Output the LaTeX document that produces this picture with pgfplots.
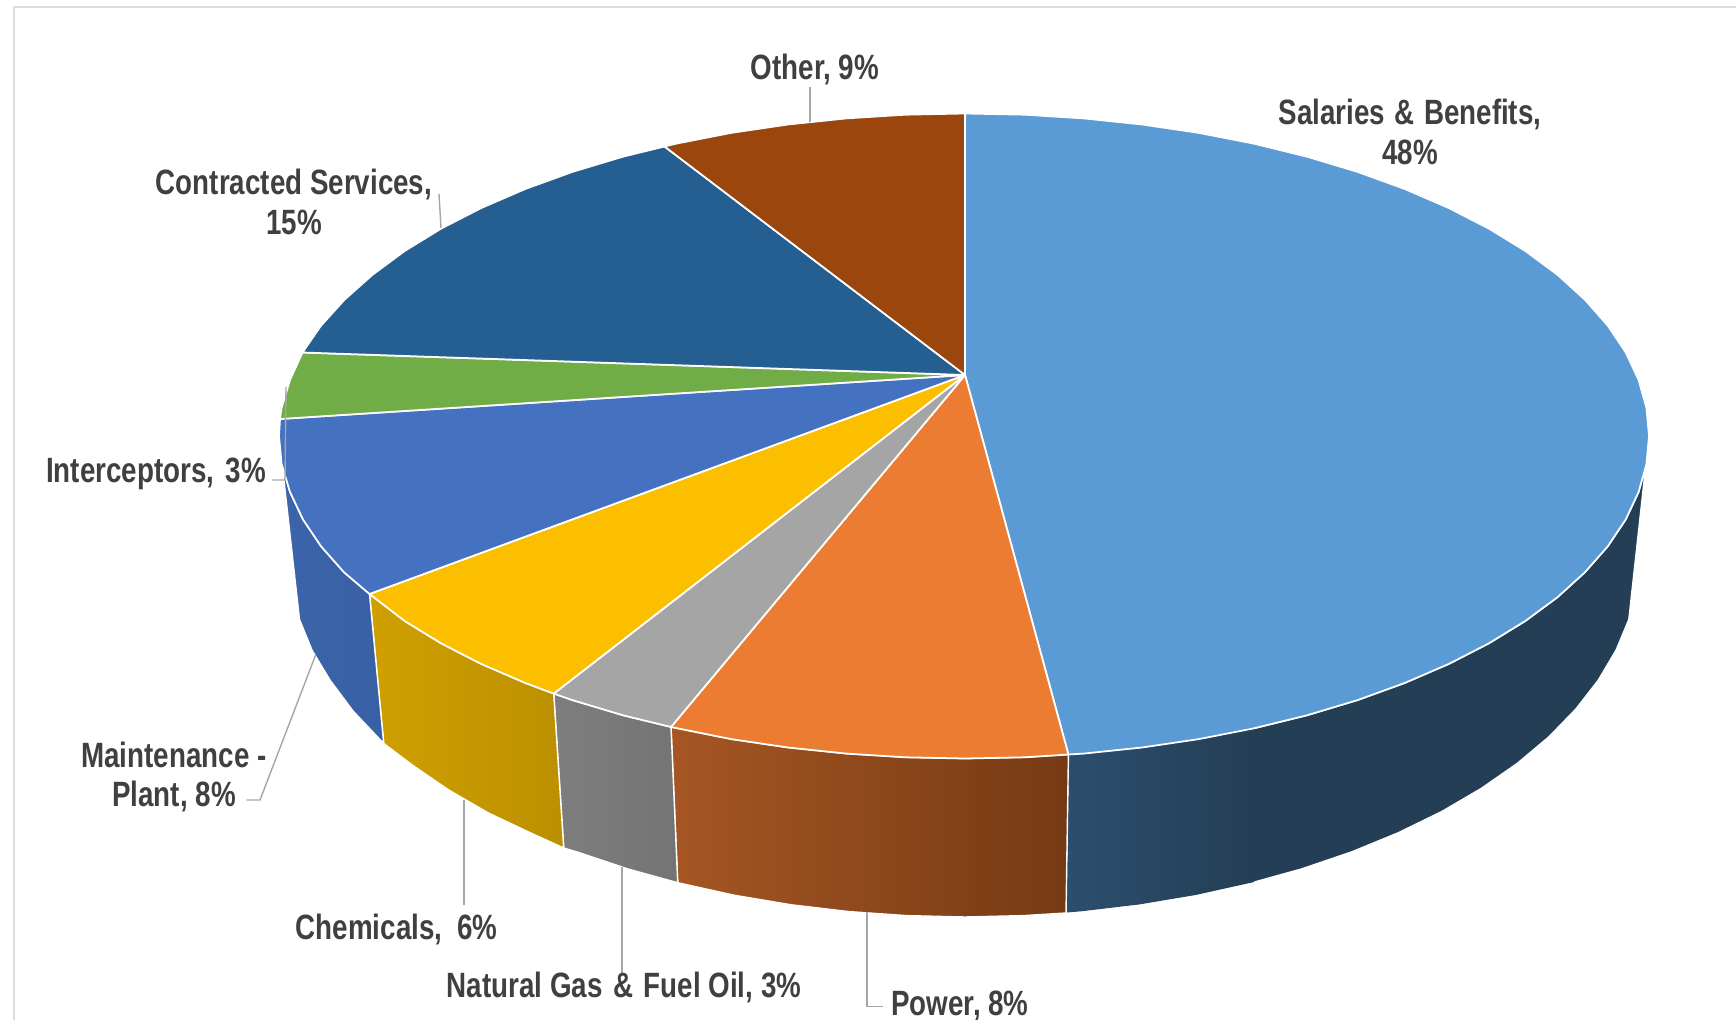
\documentclass[border=0pt]{standalone}
\usepackage{fontspec}
\setmainfont[FakeStretch=0.79]{Liberation Sans}
\usepackage{pgfplots}
\pgfplotsset{compat=1.18}
\definecolor{cSal}{HTML}{5B9BD5}
\definecolor{cPow}{HTML}{EB7C31}
\definecolor{cNG}{HTML}{A5A5A5}
\definecolor{cChe}{HTML}{FBBF00}
\definecolor{cMai}{HTML}{4472C0}
\definecolor{cInt}{HTML}{70AD47}
\definecolor{cCon}{HTML}{255E91}
\definecolor{cOth}{HTML}{9A460C}
\definecolor{lead}{HTML}{A6A6A6}
\definecolor{txt}{HTML}{404040}
\definecolor{frame}{HTML}{DCDCDC}
\tikzset{lab/.style={font=\fontsize{10}{11.3}\selectfont\bfseries,text=txt,align=center,inner sep=0pt}}
\begin{document}
\begin{tikzpicture}
\begin{axis}[
  width=17.36cm,height=10.2cm,scale only axis,
  xmin=0,xmax=1736,ymin=0,ymax=1020,y dir=reverse,
  hide axis,clip=true,
  every axis plot/.append style={line join=round},
]
\path (rel axis cs:0,0) rectangle (rel axis cs:1,1);
% frame
\addplot[frame,line width=0.6pt] coordinates {(14,1020) (14,7) (1736,7)};
% side walls
\addplot[draw=white,line width=0.4pt,fill={rgb,255:red,36;green,62;blue,85}] coordinates {
 (1068.4,754.5)(1083.7,753.6)(1142,747.5)(1198.9,739.1)(1254.1,728.3)(1307,715.3)(1357.3,700.2)(1404.7,683)(1448.7,664)(1489,643.3)(1525.3,621)(1557.4,597.3)(1584.9,572.3)(1607.8,546.3)(1625.7,519.5)(1638.6,492)(1646.4,464.1)(1649,436)
 (1628.8,619.5)(1616,650.2)(1598.3,680.1)(1575.8,709.1)(1548.7,737)(1517.1,763.5)(1481.3,788.4)(1441.6,811.6)(1398.2,832.8)(1351.6,851.9)(1302,868.8)(1249.8,883.3)(1195.5,895.3)(1139.4,904.7)(1082,911.5)(1066,913)} -- cycle;
\addplot[draw=none,left color={rgb,255:red,44;green,78;blue,110},right color={rgb,255:red,36;green,62;blue,85}] coordinates {
 (1069,755)(1083.7,754)(1142,748)(1198.9,739.5)(1254,729)(1254,882)(1195.5,895)(1139.4,904.4)(1082,911.2)(1067,912.5)} -- cycle;
\addplot[draw=white,line width=0.4pt,left color={rgb,255:red,166;green,86;blue,35},right color={rgb,255:red,117;green,58;blue,20}] coordinates {
 (1068.4,754.5)(1024.6,757.3)(965,758.5)(905.4,757.3)(846.3,753.6)(788,747.5)(731.1,739.1)(671,727)
 (677.7,882.7)(734.5,895.3)(790.6,904.7)(848,911.5)(906.2,915.6)(965,917)(1023.8,915.6)(1066,913)} -- cycle;
\addplot[draw=white,line width=0.4pt,left color={rgb,255:red,126;green,126;blue,126},right color={rgb,255:red,116;green,116;blue,116}] coordinates {
 (671,727)(623,715.3)(572.7,700.2)(553.7,693.6)
 (563.7,848)(578.4,852.4)(628,869)(677.7,882.7)} -- cycle;
\addplot[draw=white,line width=0.4pt,left color={rgb,255:red,208;green,160;blue,0},right color={rgb,255:red,187;green,143;blue,0}] coordinates {
 (553.7,693.6)(525.3,683)(481.3,664)(441,643.3)(404.7,621)(369.5,594)
 (383.7,743.5)(412.9,765.5)(448.7,790)(488.4,813)(531.8,833.5)(563.7,848)} -- cycle;
\addplot[draw=white,line width=0.4pt,left color={rgb,255:red,59;green,100;blue,170},right color={rgb,255:red,57;green,96;blue,164}] coordinates {
 (369.5,594)(344,572.3)(321,546.3)(303,519.5)(290,492)(281.6,464.1)(279,436)
 (299.5,619.5)(312,650.2)(330,680.1)(353,711)(383.7,743.5)} -- cycle;
% top face wedges
\addplot[draw=white,line width=0.5pt,fill=cSal] coordinates {
 (965,375)(965,113.5)(1024.6,114.7)(1083.7,118.4)(1142,124.5)(1198.9,132.9)(1254.1,143.7)(1307,156.7)(1357.3,171.8)(1404.7,189)(1448.7,208)(1489,228.7)(1525.3,251)(1557.4,274.7)(1584.9,299.7)(1607.8,325.7)(1625.7,352.5)(1638.6,380)(1646.4,407.9)(1649,436)(1646.4,464.1)(1638.6,492)(1625.7,519.5)(1607.8,546.3)(1584.9,572.3)(1557.4,597.3)(1525.3,621)(1489,643.3)(1448.7,664)(1404.7,683)(1357.3,700.2)(1307,715.3)(1254.1,728.3)(1198.9,739.1)(1142,747.5)(1083.7,753.6)(1068.4,754.5)} -- cycle;
\addplot[draw=white,line width=0.5pt,fill=cPow] coordinates {
 (965,375)(1068.4,754.5)(1024.6,757.3)(965,758.5)(905.4,757.3)(846.3,753.6)(788,747.5)(731.1,739.1)(671,727)} -- cycle;
\addplot[draw=white,line width=0.5pt,fill=cNG] coordinates {
 (965,375)(671,727)(623,715.3)(572.7,700.2)(553.7,693.6)} -- cycle;
\addplot[draw=white,line width=0.5pt,fill=cChe] coordinates {
 (965,375)(553.7,693.6)(525.3,683)(481.3,664)(441,643.3)(404.7,621)(369.5,594)} -- cycle;
\addplot[draw=white,line width=0.5pt,fill=cMai] coordinates {
 (965,375)(369.5,594)(344,572.3)(321,546.3)(303,519.5)(290,492)(281.6,464.1)(279,436)(280,419)} -- cycle;
\addplot[draw=white,line width=0.5pt,fill=cInt] coordinates {
 (965,375)(280,419)(281.6,407.9)(290,380)(302.5,352.5)} -- cycle;
\addplot[draw=white,line width=0.5pt,fill=cCon] coordinates {
 (965,375)(302.5,352.5)(321,325.7)(344.5,299.7)(372.6,274.7)(404.7,251)(441,228.7)(481.3,208)(525.3,189)(572.7,171.8)(623,156.7)(664.5,146.5)} -- cycle;
\addplot[draw=white,line width=0.5pt,fill=cOth] coordinates {
 (965,375)(664.5,146.5)(675.9,143.7)(731.1,132.9)(788,124.5)(846.3,118.4)(905.4,114.7)(965,113.5)} -- cycle;
% leader lines
\addplot[lead,line width=0.4pt] coordinates {(810,87)(810,121.7)};
\addplot[lead,line width=0.4pt] coordinates {(439,194)(441,228)};
\addplot[lead,line width=0.4pt] coordinates {(272.4,480)(285,480)(286,387)};
\addplot[lead,line width=0.4pt] coordinates {(315.6,655)(260,800)(246.4,800)};
\addplot[lead,line width=0.4pt] coordinates {(464,800)(464,905)};
\addplot[lead,line width=0.4pt] coordinates {(621.8,867)(621.8,973)};
\addplot[lead,line width=0.4pt] coordinates {(867,912)(867,1006.7)(883,1006.7)};
% labels
\node[lab] at (axis cs:815,69) {Other, 9\%};
\node[lab] at (axis cs:1410,132) {Salaries\hspace{0.6pt} \&\hspace{0.4pt} Benefits,\\48\%};
\node[lab] at (axis cs:294,202) {Contracted Services,\\15\%};
\node[lab] at (axis cs:156,473.5) {Interceptors,\hspace{1pt} 3\%};
\node[lab] at (axis cs:174,777) {Maintenance -\\Plant, 8\%};
\node[lab] at (axis cs:396.5,929.5) {Chemicals,\hspace{2pt} 6\%};
\node[lab] at (axis cs:624,987.5) {Natural Gas\hspace{0.8pt} \&\hspace{0.8pt} Fuel Oil, 3\%};
\node[lab] at (axis cs:960,1006) {Power, 8\%};
\end{axis}
\end{tikzpicture}
\end{document}
